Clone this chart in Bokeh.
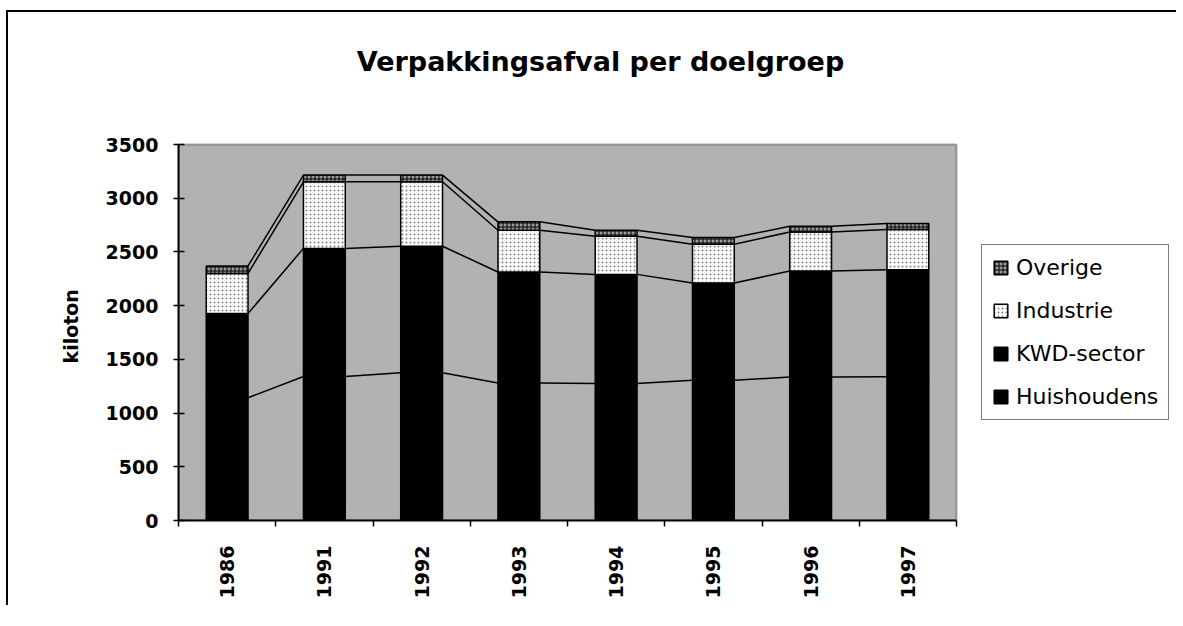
import math
import numpy as np
from bokeh.plotting import figure
from bokeh.models import (FixedTicker, Legend, LegendItem, ColumnDataSource,
                          Range1d, Label, BoxAnnotation, Title)
from bokeh.embed import file_html
from bokeh.resources import INLINE

# ---- data (kiloton) ----
years = ["1986", "1991", "1992", "1993", "1994", "1995", "1996", "1997"]
huishoudens = [1143, 1340, 1375, 1280, 1275, 1305, 1335, 1338]
kwd_sector = [784, 1193, 1178, 1033, 1016, 905, 987, 997]
industrie = [373, 620, 600, 389, 355, 361, 364, 374]
overige = [70, 62, 62, 78, 56, 63, 53, 56]
series_names = ["Huishoudens", "KWD-sector", "Industrie", "Overige"]
y_ticks = [0, 500, 1000, 1500, 2000, 2500, 3000, 3500]
y_max = 3500
title_text = "Verpakkingsafval per doelgroep"
y_label = "kiloton"

FONT = "DejaVu Sans"
BAR_W = 0.43

n = len(years)
idx = np.arange(n, dtype=float)
values = [np.array(huishoudens, float), np.array(kwd_sector, float),
          np.array(industrie, float), np.array(overige, float)]
tops = np.cumsum(values, axis=0)
bottoms = np.vstack([np.zeros(n), tops[:-1]])

# ---- layout (page pixels) ----
ORG_X, ORG_Y = 8, 12            # figure origin on the page (margin + border)
W, H = 1170, 595
PX0, PX1, PY0, PY1 = 178, 956, 144, 520   # plot area (grey box)
FL = PX0 - ORG_X
frame_w = ORG_X + W - PX0
frame_h = PY1 - ORG_Y
x_end = -0.5 + n * frame_w / (PX1 - PX0)
y_end = y_max * frame_h / (PY1 - PY0)

p = figure(width=W, height=H,
           x_range=Range1d(-0.5, x_end), y_range=Range1d(0, y_end),
           output_backend="svg", toolbar_location=None,
           min_border_left=FL, min_border_top=0, min_border_right=0,
           min_border_bottom=ORG_Y + H - PY1,
           background_fill_color="white", border_fill_color="white")
p.styles = {"margin-left": "6px", "margin-top": "10px",
            "border-top": "2px solid black", "border-left": "2px solid black"}
p.outline_line_color = None
p.xgrid.visible = False
p.ygrid.visible = False

# grey plot area with border
p.add_layout(BoxAnnotation(left=-0.5, right=n - 0.5, bottom=0, top=y_max,
                           fill_color="#b2b2b2", fill_alpha=1,
                           line_color="black", line_width=2, level="underlay"))

styles = [
    dict(fill_color="black", line_color="black"),
    dict(fill_color="black", line_color="black"),
    dict(fill_color="white", line_color="black", hatch_pattern="dot",
         hatch_color="#808080", hatch_scale=4, hatch_weight=1),
    dict(fill_color="#9a9a9a", line_color="black", hatch_pattern="cross",
         hatch_color="black", hatch_scale=4, hatch_weight=1),
]

renderers = []
for k, name in enumerate(series_names):
    src = ColumnDataSource(dict(x=idx, bottom=bottoms[k], top=tops[k]))
    r = p.vbar(x="x", bottom="bottom", top="top", width=BAR_W, source=src,
               line_width=1.5, **styles[k])
    renderers.append(r)

# Excel-like series lines connecting the stack boundaries between bars
for k in range(len(series_names)):
    seg = ColumnDataSource(dict(x0=idx[:-1] + BAR_W / 2, y0=tops[k][:-1],
                                x1=idx[1:] - BAR_W / 2, y1=tops[k][1:]))
    p.segment(x0="x0", y0="y0", x1="x1", y1="y1", source=seg,
              line_color="black", line_width=1.5)

# title
p.add_layout(Label(x=600 - PX0, y=PY1 - 61, x_units="screen", y_units="screen",
                   text=title_text, text_align="center", text_baseline="middle",
                   text_font=FONT, text_font_size="27px", text_font_style="bold",
                   text_color="black"))

# y axis
p.yaxis.bounds = (0, y_max)
p.yaxis.ticker = FixedTicker(ticks=y_ticks)
p.yaxis.axis_line_width = 2
p.yaxis.major_tick_in = 6
p.yaxis.major_tick_out = 5
p.yaxis.major_tick_line_width = 1.5
p.yaxis.minor_tick_line_color = None
p.yaxis.major_label_text_font = FONT
p.yaxis.major_label_text_font_size = "19px"
p.yaxis.major_label_text_font_style = "bold"
p.yaxis.major_label_text_color = "black"
p.yaxis.major_label_standoff = 15

# y-axis caption, centred on the grey plot area (not on the taller frame)
p.add_layout(Title(text=y_label, align="left", offset=157, standoff=42,
                   text_font=FONT, text_font_size="19px",
                   text_font_style="bold", text_color="black"), "left")

# x axis: labels at category centres, tick marks between categories
p.xaxis.bounds = (-0.5, n - 0.5)
p.xaxis.ticker = FixedTicker(ticks=list(idx),
                             minor_ticks=[i - 0.5 for i in range(n + 1)])
p.xaxis.major_label_overrides = {float(i): y for i, y in enumerate(years)}
p.xaxis.major_label_orientation = math.pi / 2
p.xaxis.axis_line_width = 2
p.xaxis.major_tick_line_color = None
p.xaxis.major_tick_in = 0
p.xaxis.major_tick_out = 6
p.xaxis.minor_tick_in = 0
p.xaxis.minor_tick_out = 6
p.xaxis.minor_tick_line_color = "black"
p.xaxis.minor_tick_line_width = 1.5
p.xaxis.major_label_text_font = FONT
p.xaxis.major_label_text_font_size = "19px"
p.xaxis.major_label_text_font_style = "bold"
p.xaxis.major_label_text_color = "black"
p.xaxis.major_label_standoff = 19

# legend (top to bottom: Overige, Industrie, KWD-sector, Huishoudens)
items = [LegendItem(label=series_names[k], renderers=[renderers[k]])
         for k in [3, 2, 1, 0]]
legend = Legend(items=items, location=(981 - PX0, PY1 - 420),
                orientation="vertical")
legend.glyph_width = 17
legend.glyph_height = 17
legend.label_height = 20
legend.spacing = 18
legend.padding = 10
legend.margin = 0
legend.label_standoff = 7
legend.label_text_font = FONT
legend.label_text_font_size = "22px"
legend.label_text_color = "black"
legend.border_line_color = "black"
legend.border_line_width = 1.5
legend.background_fill_color = "white"
legend.background_fill_alpha = 1
p.add_layout(legend, "center")

open("out.html", "w").write(file_html(p, INLINE))
